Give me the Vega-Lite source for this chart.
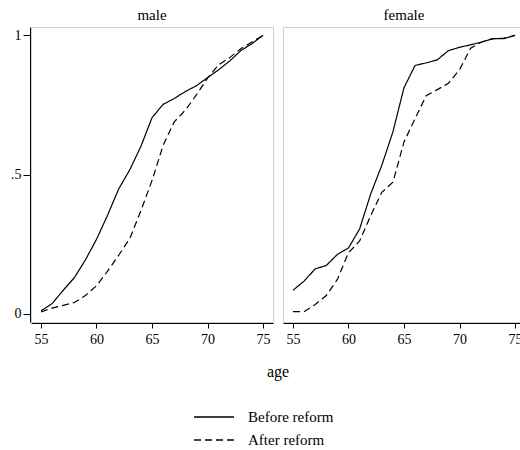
{
  "$schema": "https://vega.github.io/schema/vega-lite/v6.json",
  "datasets": {
    "rows": [
      {"sex":"male","reform":"Before reform","age":55,"share":0.01},
      {"sex":"male","reform":"Before reform","age":56,"share":0.036},
      {"sex":"male","reform":"Before reform","age":57,"share":0.084},
      {"sex":"male","reform":"Before reform","age":58,"share":0.129},
      {"sex":"male","reform":"Before reform","age":59,"share":0.193},
      {"sex":"male","reform":"Before reform","age":60,"share":0.267},
      {"sex":"male","reform":"Before reform","age":61,"share":0.354},
      {"sex":"male","reform":"Before reform","age":62,"share":0.448},
      {"sex":"male","reform":"Before reform","age":63,"share":0.517},
      {"sex":"male","reform":"Before reform","age":64,"share":0.601},
      {"sex":"male","reform":"Before reform","age":65,"share":0.704},
      {"sex":"male","reform":"Before reform","age":66,"share":0.752},
      {"sex":"male","reform":"Before reform","age":67,"share":0.773},
      {"sex":"male","reform":"Before reform","age":68,"share":0.798},
      {"sex":"male","reform":"Before reform","age":69,"share":0.819},
      {"sex":"male","reform":"Before reform","age":70,"share":0.848},
      {"sex":"male","reform":"Before reform","age":71,"share":0.876},
      {"sex":"male","reform":"Before reform","age":72,"share":0.908},
      {"sex":"male","reform":"Before reform","age":73,"share":0.945},
      {"sex":"male","reform":"Before reform","age":74,"share":0.970},
      {"sex":"male","reform":"Before reform","age":75,"share":1.0},
      {"sex":"male","reform":"After reform","age":55,"share":0.006},
      {"sex":"male","reform":"After reform","age":56,"share":0.02},
      {"sex":"male","reform":"After reform","age":57,"share":0.03},
      {"sex":"male","reform":"After reform","age":58,"share":0.04},
      {"sex":"male","reform":"After reform","age":59,"share":0.065},
      {"sex":"male","reform":"After reform","age":60,"share":0.10},
      {"sex":"male","reform":"After reform","age":61,"share":0.153},
      {"sex":"male","reform":"After reform","age":62,"share":0.21},
      {"sex":"male","reform":"After reform","age":63,"share":0.27},
      {"sex":"male","reform":"After reform","age":64,"share":0.37},
      {"sex":"male","reform":"After reform","age":65,"share":0.478},
      {"sex":"male","reform":"After reform","age":66,"share":0.605},
      {"sex":"male","reform":"After reform","age":67,"share":0.689},
      {"sex":"male","reform":"After reform","age":68,"share":0.731},
      {"sex":"male","reform":"After reform","age":69,"share":0.786},
      {"sex":"male","reform":"After reform","age":70,"share":0.846},
      {"sex":"male","reform":"After reform","age":71,"share":0.894},
      {"sex":"male","reform":"After reform","age":72,"share":0.92},
      {"sex":"male","reform":"After reform","age":73,"share":0.952},
      {"sex":"male","reform":"After reform","age":74,"share":0.976},
      {"sex":"male","reform":"After reform","age":75,"share":1.0},
      {"sex":"female","reform":"Before reform","age":55,"share":0.084},
      {"sex":"female","reform":"Before reform","age":56,"share":0.117},
      {"sex":"female","reform":"Before reform","age":57,"share":0.161},
      {"sex":"female","reform":"Before reform","age":58,"share":0.173},
      {"sex":"female","reform":"Before reform","age":59,"share":0.213},
      {"sex":"female","reform":"Before reform","age":60,"share":0.236},
      {"sex":"female","reform":"Before reform","age":61,"share":0.304},
      {"sex":"female","reform":"Before reform","age":62,"share":0.430},
      {"sex":"female","reform":"Before reform","age":63,"share":0.533},
      {"sex":"female","reform":"Before reform","age":64,"share":0.653},
      {"sex":"female","reform":"Before reform","age":65,"share":0.812},
      {"sex":"female","reform":"Before reform","age":66,"share":0.892},
      {"sex":"female","reform":"Before reform","age":67,"share":0.901},
      {"sex":"female","reform":"Before reform","age":68,"share":0.912},
      {"sex":"female","reform":"Before reform","age":69,"share":0.945},
      {"sex":"female","reform":"Before reform","age":70,"share":0.957},
      {"sex":"female","reform":"Before reform","age":71,"share":0.966},
      {"sex":"female","reform":"Before reform","age":72,"share":0.976},
      {"sex":"female","reform":"Before reform","age":73,"share":0.988},
      {"sex":"female","reform":"Before reform","age":74,"share":0.988},
      {"sex":"female","reform":"Before reform","age":75,"share":1.0},
      {"sex":"female","reform":"After reform","age":55,"share":0.007},
      {"sex":"female","reform":"After reform","age":56,"share":0.007},
      {"sex":"female","reform":"After reform","age":57,"share":0.033},
      {"sex":"female","reform":"After reform","age":58,"share":0.065},
      {"sex":"female","reform":"After reform","age":59,"share":0.123},
      {"sex":"female","reform":"After reform","age":60,"share":0.219},
      {"sex":"female","reform":"After reform","age":61,"share":0.261},
      {"sex":"female","reform":"After reform","age":62,"share":0.352},
      {"sex":"female","reform":"After reform","age":63,"share":0.436},
      {"sex":"female","reform":"After reform","age":64,"share":0.472},
      {"sex":"female","reform":"After reform","age":65,"share":0.617},
      {"sex":"female","reform":"After reform","age":66,"share":0.701},
      {"sex":"female","reform":"After reform","age":67,"share":0.783},
      {"sex":"female","reform":"After reform","age":68,"share":0.805},
      {"sex":"female","reform":"After reform","age":69,"share":0.828},
      {"sex":"female","reform":"After reform","age":70,"share":0.876},
      {"sex":"female","reform":"After reform","age":71,"share":0.954},
      {"sex":"female","reform":"After reform","age":72,"share":0.976},
      {"sex":"female","reform":"After reform","age":73,"share":0.988},
      {"sex":"female","reform":"After reform","age":74,"share":0.99},
      {"sex":"female","reform":"After reform","age":75,"share":1.0}
    ]
  },
  "data": {"name": "rows"},
  "padding": {"left": 10, "top": 8, "right": 0, "bottom": 0},
  "spacing": 8,
  "facet": {
    "column": {
      "field": "sex", "type": "nominal", "sort": ["male", "female"],
      "title": "age",
      "header": {
        "titleOrient": "bottom", "titleFont": "Liberation Serif", "titleFontSize": 16, "titleFontWeight": "normal", "titleColor": "black", "titlePadding": 8,
        "labelOrient": "top", "labelFont": "Liberation Serif", "labelFontSize": 15, "labelFontWeight": "normal", "labelColor": "black", "labelPadding": 3
      }
    }
  },
  "spec": {
    "width": 242,
    "height": 295,
    "mark": {"type": "line", "color": "black", "strokeWidth": 1.2},
    "encoding": {
      "x": {
        "field": "age", "type": "quantitative",
        "scale": {"domain": [54.1, 75.9], "nice": false, "zero": false},
        "axis": {"values": [55, 60, 65, 70, 75], "title": null, "labelFont": "Liberation Serif", "labelFontSize": 14, "labelFontWeight": "normal", "tickSize": 5, "labelPadding": 4}
      },
      "y": {
        "field": "share", "type": "quantitative",
        "scale": {"domain": [-0.03, 1.03], "nice": false},
        "axis": {"values": [0, 0.5, 1], "labelExpr": "datum.value == 0.5 ? '.5' : format(datum.value, 'd')", "title": null, "labelFont": "Liberation Serif", "labelFontSize": 14, "labelFontWeight": "normal", "tickSize": 7, "labelPadding": 2}
      },
      "strokeDash": {
        "field": "reform", "type": "nominal",
        "scale": {"domain": ["Before reform", "After reform"], "range": [[1, 0], [7, 4]]},
        "legend": {"title": null, "orient": "bottom", "direction": "vertical", "symbolType": "M-2,0H2", "symbolSize": 400, "symbolStrokeColor": "black", "symbolStrokeWidth": 1.3, "labelFontSize": 15, "labelFont": "Liberation Serif", "labelColor": "black", "labelOffset": 23, "rowPadding": 4, "padding": 0, "offset": 26}
      }
    }
  },
  "config": {
    "font": "Liberation Serif",
    "view": {"stroke": "#d0d0d0"},
    "style": {
      "guide-label": {"font": "Liberation Serif", "fill": "black"},
      "guide-title": {"font": "Liberation Serif"}
    },
    "header": {"labelFont": "Liberation Serif", "titleFont": "Liberation Serif"},
    "axis": {"grid": false, "domainColor": "black", "tickColor": "black", "labelColor": "black", "titleColor": "black", "labelFont": "Liberation Serif", "titleFont": "Liberation Serif"},
    "legend": {"layout": {"bottom": {"anchor": "middle"}}}
  }
}
